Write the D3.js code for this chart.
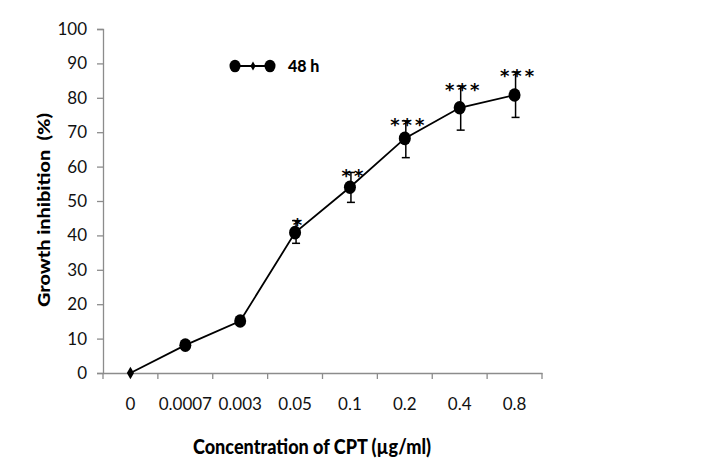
<!DOCTYPE html>
<html><head><meta charset="utf-8">
<script src="https://cdn.jsdelivr.net/npm/d3@7"></script>
<style>body{margin:0;background:#fff}svg{display:block}</style>
</head><body>
<svg id="c" width="718" height="470"></svg>
<script>
const categories = ["0","0.0007","0.003","0.05","0.1","0.2","0.4","0.8"];
const inhibition = [0, 8.1, 15.1, 40.8, 54.0, 68.2, 77.1, 80.8];
const errUpper = [0, 0, 0, 44.3, 58.3, 73.3, 83.4, 87.5];
const errLower = [0, 0, 0, 37.7, 49.6, 62.6, 70.6, 74.3];
const stars = ["","","","*","**","***","***","***"];
const yTicks = [0,10,20,30,40,50,60,70,80,90,100];
const seriesName = "48 h";

(function(){
const svg = d3.select("#c");
const pL = 103, pR = 542, pT = 29, pB = 373;
const x = d3.scaleBand().domain(categories).range([pL, pR]).padding(0);
const y = d3.scaleLinear().domain([0,100]).range([pB, pT]);
const font = "'Lato', 'Open Sans', sans-serif";

const ya = svg.append("g").attr("transform", `translate(${pL},0)`)
  .call(d3.axisLeft(y).tickValues(yTicks).tickSize(6).tickPadding(10));
const xa = svg.append("g").attr("transform", `translate(0,${pB})`)
  .call(d3.axisBottom(x).tickSize(0).tickPadding(25));
const edges = categories.map(c => x(c)).concat([pR]);
xa.selectAll(".edge").data(edges).enter().append("line")
  .attr("x1", d => d).attr("x2", d => d).attr("y1", 0).attr("y2", 6)
  .attr("stroke", "#8c8c8c").attr("stroke-width", 1.3);
[ya, xa].forEach(a => {
  a.select(".domain").attr("stroke", "#8c8c8c").attr("stroke-width", 1.3);
  a.selectAll(".tick line").attr("stroke", "#8c8c8c").attr("stroke-width", 1.3);
  a.selectAll("text").attr("font-family", font).attr("font-size", 17).attr("fill", "#111");
});

const cx = c => x(c) + x.bandwidth()/2;

svg.append("path").datum(categories.map((c,i)=>[cx(c), y(inhibition[i])]))
  .attr("d", d3.line()).attr("fill","none").attr("stroke","#000").attr("stroke-width",1.8);

const eb = svg.append("g").attr("stroke","#000").attr("stroke-width",1.5);
categories.forEach((c,i) => {
  if (errUpper[i] === errLower[i]) return;
  const px = cx(c) + 1;
  eb.append("line").attr("x1",px).attr("x2",px).attr("y1",y(errUpper[i])).attr("y2",y(errLower[i]));
  [errUpper[i], errLower[i]].forEach(v => eb.append("line").attr("x1",px-4).attr("x2",px+4).attr("y1",y(v)).attr("y2",y(v)));
});

categories.forEach((c,i) => {
  const px = cx(c), py = y(inhibition[i]);
  if (i === 0) {
    svg.append("path").attr("d", d3.symbol(d3.symbolDiamond, 45)()).attr("transform",`translate(${px},${py})`).attr("fill","#000");
  } else {
    svg.append("ellipse").attr("cx",px).attr("cy",py).attr("rx",6).attr("ry",6.8).attr("fill","#000");
  }
  if (stars[i]) {
    svg.append("text").attr("x", px + 4).attr("y", y(errUpper[i]) + 10)
      .attr("text-anchor","middle").attr("font-family","'DejaVu Sans', sans-serif").attr("font-weight","bold")
      .attr("font-size", 18).attr("letter-spacing", 3).attr("fill","#000").text(stars[i]);
  }
});

const lg = svg.append("g");
lg.append("line").attr("x1",235).attr("x2",270).attr("y1",66).attr("y2",66).attr("stroke","#000").attr("stroke-width",1.8);
lg.append("ellipse").attr("cx",235).attr("cy",66).attr("rx",5.5).attr("ry",6.3).attr("fill","#000");
lg.append("ellipse").attr("cx",270).attr("cy",66).attr("rx",5.5).attr("ry",6.3).attr("fill","#000");
lg.append("path").attr("d", d3.symbol(d3.symbolDiamond, 24)()).attr("transform","translate(253,66)").attr("fill","#000");
lg.append("text").attr("x",288).attr("y",72).attr("font-family",font).attr("font-weight",900)
  .attr("font-size",16).attr("fill","#000").text(seriesName);

svg.append("text").attr("transform","translate(50,210) rotate(-90)").attr("text-anchor","middle")
  .attr("font-family",font).attr("font-weight",900).attr("font-size",17).attr("fill","#000")
  .attr("textLength",194).attr("lengthAdjust","spacingAndGlyphs")
  .style("white-space","pre").text("Growth inhibition  (%)");
svg.append("text").attr("x",312).attr("y",454).attr("text-anchor","middle")
  .attr("font-family",font).attr("font-weight",900).attr("font-size",21).attr("fill","#000")
  .attr("textLength",238).attr("lengthAdjust","spacingAndGlyphs")
  .text("Concentration of CPT (µg/ml)");
})();
</script>
</body></html>
